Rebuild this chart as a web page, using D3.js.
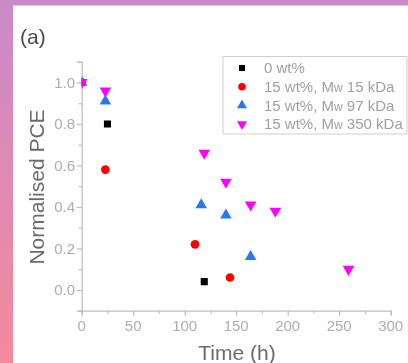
<!DOCTYPE html>
<html>
<head>
<meta charset="utf-8">
<script src="https://cdn.jsdelivr.net/npm/d3@7"></script>
<style>
  html, body { margin: 0; padding: 0; background: #fff; }
  svg { display: block; font-family: "Liberation Sans", Arial, sans-serif; }
</style>
</head>
<body>
<div id="chart"></div>
<script>
// data
const seriesNames = ['0 wt%', '15 wt%, Mw 15 kDa', '15 wt%, Mw 97 kDa', '15 wt%, Mw 350 kDa'];
const time0 = [0, 25, 119];
const pce0 = [1.0, 0.80, 0.04];
const time15 = [0, 23, 110, 144];
const pce15 = [1.0, 0.58, 0.22, 0.06];
const time97 = [0, 23, 116, 140, 164];
const pce97 = [1.0, 0.91, 0.41, 0.36, 0.16];
const time350 = [0, 23, 119, 140, 164, 188, 259];
const pce350 = [1.0, 0.96, 0.66, 0.52, 0.41, 0.38, 0.10];
const xTicks = [0, 50, 100, 150, 200, 250, 300];
const yTicks = [0.0, 0.2, 0.4, 0.6, 0.8, 1.0];

const W = 408, H = 363;
const svg = d3.select('#chart').append('svg')
  .attr('width', W).attr('height', H);

const defs = svg.append('defs');
const grad = defs.append('linearGradient').attr('id', 'bg')
  .attr('x1', 0).attr('y1', 0).attr('x2', 0).attr('y2', 1);
grad.append('stop').attr('offset', '0%').attr('stop-color', '#ca8ac9');
grad.append('stop').attr('offset', '100%').attr('stop-color', '#f58a9b');
defs.append('filter').attr('id', 'soft')
  .append('feGaussianBlur').attr('stdDeviation', 0.5);

// frame
svg.append('rect').attr('width', W).attr('height', H).attr('fill', 'url(#bg)');
svg.append('rect').attr('x', 13).attr('y', 5.5).attr('width', W - 13).attr('height', H - 5.5).attr('fill', '#fff');

const g = svg.append('g').attr('filter', 'url(#soft)');

const x = d3.scaleLinear().domain([0, 300]).range([81.7, 390.7]);
const y = d3.scaleLinear().domain([-0.1, 1.1]).range([310.7, 61.7]);

defs.append('clipPath').attr('id', 'plot')
  .append('rect').attr('x', x(0)).attr('y', 0).attr('width', 400).attr('height', H);

// axes
const axisCol = '#bdbdbd';
const xAxis = g.append('g').attr('transform', `translate(0,${y(-0.1)})`)
  .call(d3.axisBottom(x).tickValues(d3.range(0, 301, 25)).tickSize(4).tickFormat(''));
xAxis.selectAll('.tick line').attr('y2', (d) => d % 50 === 0 ? 5 : 3);
const yAxis = g.append('g').attr('transform', `translate(${x(0)},0)`)
  .call(d3.axisLeft(y).tickValues(d3.range(-0.1, 1.1001, 0.1)).tickSize(5).tickFormat(''));
yAxis.selectAll('.tick line').attr('x2', (d, i) => i % 2 === 1 ? -5 : -3);
g.selectAll('.domain').attr('stroke', axisCol).attr('stroke-width', 1.2);
g.selectAll('.tick line').attr('stroke', axisCol).attr('stroke-width', 1.2);

g.selectAll('.xlab').data(xTicks).enter().append('text')
  .attr('x', (d) => x(d)).attr('y', 330.5)
  .attr('text-anchor', 'middle').attr('font-size', 15).attr('fill', '#adadad')
  .text((d) => d);
g.selectAll('.ylab').data(yTicks).enter().append('text')
  .attr('x', 75).attr('y', (d) => y(d) + 5.3)
  .attr('text-anchor', 'end').attr('font-size', 15).attr('fill', '#adadad')
  .text((d) => d.toFixed(1));

g.append('text').attr('transform', 'translate(44,187) rotate(-90)')
  .attr('text-anchor', 'middle').attr('font-size', 21).attr('fill', '#6b6b6b')
  .text('Normalised PCE');
g.append('text').attr('x', 237).attr('y', 360)
  .attr('text-anchor', 'middle').attr('font-size', 21).attr('fill', '#6b6b6b')
  .text('Time (h)');
g.append('text').attr('x', 20).attr('y', 44)
  .attr('font-size', 21).attr('fill', '#4a4a4a')
  .text('(a)');

// markers
const series = [
  { t: time0, v: pce0, color: '#000000', sym: d3.symbolSquare, size: 50, rot: 0 },
  { t: time15, v: pce15, color: '#ff0000', sym: d3.symbolCircle, size: 60, rot: 0 },
  { t: time97, v: pce97, color: '#2f78e6', sym: d3.symbolTriangle, size: 58, rot: 0 },
  { t: time350, v: pce350, color: '#ff00ff', sym: d3.symbolTriangle, size: 58, rot: 180 }
];
const marks = g.append('g').attr('clip-path', 'url(#plot)');
series.forEach((s) => {
  marks.selectAll(null).data(s.t).enter().append('path')
    .attr('d', d3.symbol().type(s.sym).size(s.size))
    .attr('transform', (d, i) => `translate(${x(d)},${y(s.v[i])}) rotate(${s.rot})`)
    .attr('fill', s.color);
});

// legend
const lg = g.append('g');
lg.append('rect').attr('x', 223).attr('y', 56.5).attr('width', 184).attr('height', 77.5)
  .attr('fill', '#fff').attr('stroke', '#cfcfcf');
series.forEach((s, i) => {
  const yy = 68 + i * 18.7;
  lg.append('path')
    .attr('d', d3.symbol().type(s.sym).size(s.size * 0.75))
    .attr('transform', `translate(242,${yy}) rotate(${s.rot})`)
    .attr('fill', s.color);
  const t = lg.append('text').attr('x', 264).attr('y', yy + 5.3)
    .attr('font-size', 15).attr('fill', '#a0a0a0');
  const name = seriesNames[i];
  const k = name.indexOf('Mw');
  if (k < 0) {
    t.text(name);
  } else {
    t.append('tspan').text(name.slice(0, k + 1));
    t.append('tspan').attr('font-size', 12).text('w');
    t.append('tspan').text(name.slice(k + 2));
  }
});
</script>
</body>
</html>
